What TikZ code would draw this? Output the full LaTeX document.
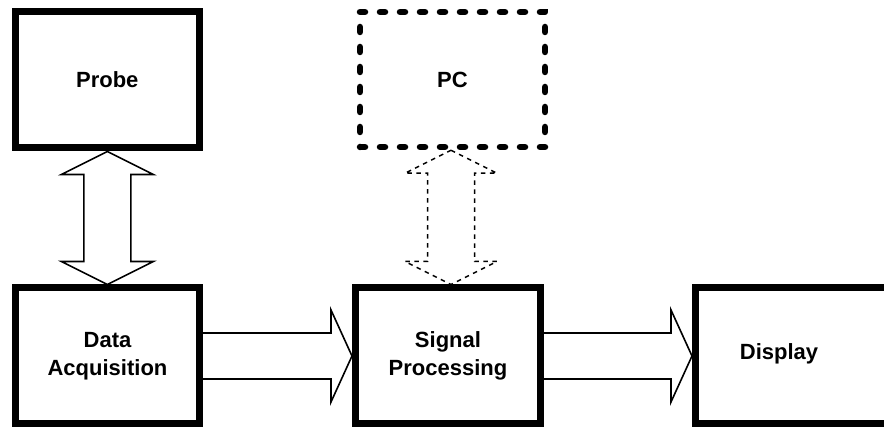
\documentclass[tikz,border=0pt]{standalone}
\usepackage{fontspec}
\setmainfont{Liberation Sans}
\usetikzlibrary{calc}

\tikzset{
  block/.style={draw=black, line width=7pt, fill=white, inner sep=0pt,
    align=center, font=\fontsize{22}{28}\selectfont\bfseries},
  optblock/.style={block, line width=6.5pt, line cap=round,
    dash pattern=on 5pt off 15pt},
  lbl/.style={inner sep=0pt, font=\fontsize{22}{28}\selectfont\bfseries},
  fat/.style={draw=black, fill=white, line width=1.6pt, line join=miter},
  fatdashed/.style={fat, line width=1.5pt, dash pattern=on 4.5pt off 4.5pt},
}

% hollow double-headed arrow between two points, top (#2) to bottom (#3)
\newcommand\hollowvarrow[3]{%
  \path let \p1=(#2), \p2=(#3) in
    [#1] (\x1,\y1) -- ({\x1+46pt},{\y1-23pt}) -- ({\x1+23.5pt},{\y1-23pt})
    -- ({\x1+23.5pt},{\y2+23pt}) -- ({\x1+46pt},{\y2+23pt}) -- (\x1,\y2)
    -- ({\x1-46pt},{\y2+23pt}) -- ({\x1-23.5pt},{\y2+23pt})
    -- ({\x1-23.5pt},{\y1-23pt}) -- ({\x1-46pt},{\y1-23pt}) -- cycle;}

% hollow single-headed arrow from a box side (#1) to the next box (#2)
\newcommand\hollowharrow[2]{%
  \path let \p1=(#1), \p2=(#2) in
    [fat] (\x1,{\y1+23pt}) -- ({\x2-21pt},{\y1+23pt}) -- ({\x2-21pt},{\y1+46pt})
    -- (\x2,\y1) -- ({\x2-21pt},{\y1-46pt}) -- ({\x2-21pt},{\y1-23pt})
    -- (\x1,{\y1-23pt});}

\begin{document}
\begin{tikzpicture}[x=1pt, y=-1pt]
  \useasboundingbox (0,0) rectangle (884,427);
  \fill[white] (0,0) rectangle (884,427);
  \clip (0,0) rectangle (884,427);

  % blocks
  \node[block, minimum width=184.5pt, minimum height=136pt] (probe) at (107.3,80) {Probe};
  \node[optblock, minimum width=185pt, minimum height=135pt] (pc) at (452.5,79.5) {PC};
  \node[block, minimum width=184pt, minimum height=136pt] (daq) at (107.5,356) {Data\\Acquisition};
  \node[block, minimum width=185pt, minimum height=136pt] (sig) at (448,356) {Signal\\Processing};
  \node[block, minimum width=260pt, minimum height=136pt, anchor=west] (disp) at (692,356) {};
  \node[lbl] (displaytext) at (779,354) {Display};

  % connections
  \hollowvarrow{fat}{probe.south}{daq.north}
  \coordinate (pcdown) at ($(pc.south)+(-1.5,0)$);
  \hollowvarrow{fatdashed}{pcdown}{pcdown |- sig.north}
  \hollowharrow{daq.east}{sig.west}
  \hollowharrow{sig.east}{disp.west}
\end{tikzpicture}
\end{document}
